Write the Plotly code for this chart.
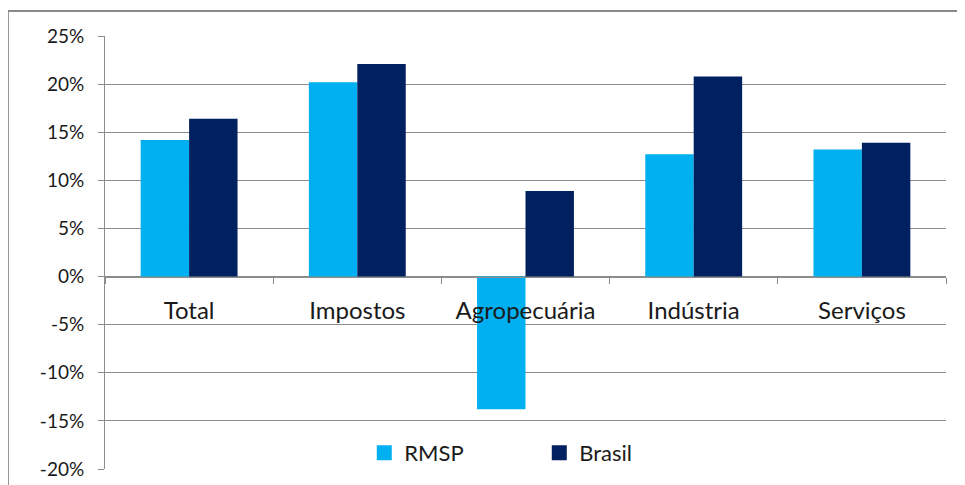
import plotly.graph_objects as go

categories = ["Total", "Impostos", "Agropecuária", "Indústria", "Serviços"]
rmsp = [0.142, 0.202, -0.138, 0.127, 0.132]
brasil = [0.164, 0.221, 0.089, 0.208, 0.139]
y_ticks = [0.25, 0.20, 0.15, 0.10, 0.05, 0.0, -0.05, -0.10, -0.15, -0.20]
y_tick_labels = ["25%", "20%", "15%", "10%", "5%", "0%", "-5%", "-10%", "-15%", "-20%"]

C_RMSP = "#00B0F0"
C_BR = "#002060"
GRID = "#8c8c8c"
FONT = "Lato"
TXT = "#1a1a1a"

fig = go.Figure()
fig.add_trace(go.Bar(x=categories, y=rmsp, name="RMSP", marker=dict(color=C_RMSP, line=dict(width=0)), showlegend=False))
fig.add_trace(go.Bar(x=categories, y=brasil, name="Brasil", marker=dict(color=C_BR, line=dict(width=0)), showlegend=False))
# legend-only entries with larger square swatches
fig.add_trace(go.Scatter(x=[None], y=[None], mode="markers", name="RMSP",
                         marker=dict(symbol="square", size=15, color=C_RMSP)))
fig.add_trace(go.Scatter(x=[None], y=[None], mode="markers", name="Brasil",
                         marker=dict(symbol="square", size=15, color=C_BR)))

fig.update_layout(
    template="none",
    width=957, height=477,
    margin=dict(l=97, r=19, t=28, b=16, autoexpand=False),
    paper_bgcolor="white", plot_bgcolor="white",
    barmode="group", bargap=0.424, bargroupgap=0,
    font=dict(family=FONT, color=TXT),
    showlegend=True,
    legend=dict(orientation="h", x=0.3083, xanchor="left", y=0.037, yanchor="middle",
                font=dict(size=22, family=FONT, color=TXT), bgcolor="rgba(0,0,0,0)",
                entrywidth=130, entrywidthmode="pixels", itemclick=False),
    xaxis=dict(type="category", anchor="free", position=20/45, automargin=False,
               showline=True, linecolor=GRID, linewidth=1,
               ticks="outside", tickson="boundaries", ticklen=6, tickcolor=GRID,
               tickfont=dict(size=24, family=FONT, color=TXT), ticklabelstandoff=13,
               showgrid=False, zeroline=False, fixedrange=True),
    yaxis=dict(range=[-0.20, 0.25], tickvals=y_ticks, ticktext=y_tick_labels, automargin=False,
               showline=True, linecolor=GRID, linewidth=1,
               ticks="outside", ticklen=6, tickcolor=GRID,
               tickfont=dict(size=19, family=FONT, color=TXT), ticklabelstandoff=10,
               showgrid=True, gridcolor=GRID, gridwidth=1,
               zeroline=True, zerolinecolor=GRID, zerolinewidth=1, fixedrange=True),
    shapes=[dict(type="rect", xref="paper", yref="paper",
                 x0=(9 - 106) / 840, x1=1.06, y0=-0.08, y1=(469 - 11) / 433,
                 line=dict(color="#8a8a8a", width=2), fillcolor="rgba(0,0,0,0)", layer="below")],
)

fig.write_html("out.html")
